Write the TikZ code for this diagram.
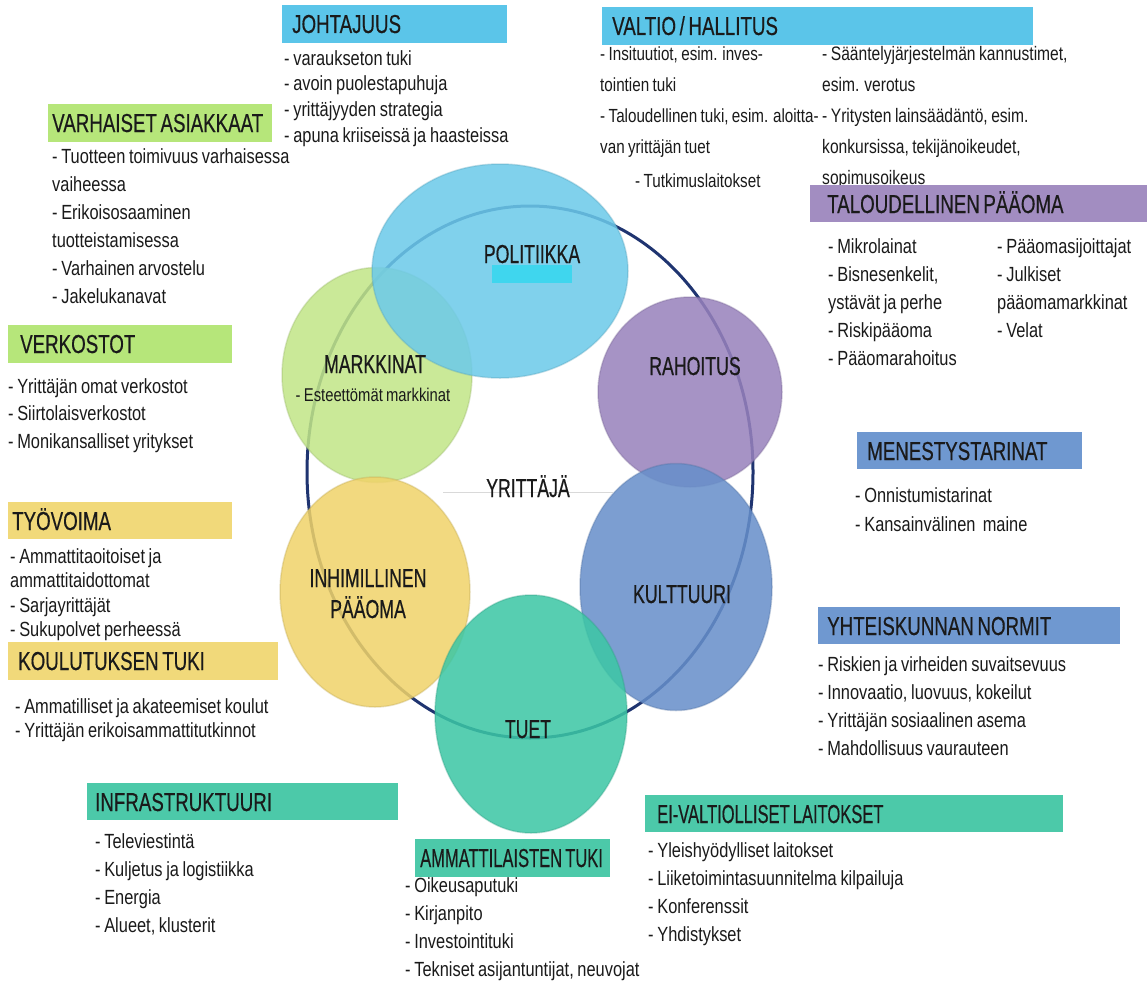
\documentclass[tikz,border=0pt]{standalone}
\usepackage{fontspec}
\usetikzlibrary{shapes.geometric,calc}
\setmainfont{Liberation Sans}[FakeStretch=0.8,WordSpace=0.8]
\newfontfamily\hdrfam{Liberation Sans}[FakeStretch=0.72,WordSpace=0.7,FakeBold=0.4]
\newfontfamily\hdrnarrow{Liberation Sans}[FakeStretch=0.635,WordSpace=0.7,FakeBold=0.4]
\newfontfamily\circfam{Liberation Sans}[FakeStretch=0.68,WordSpace=0.7,FakeBold=0.5]
\definecolor{txt}{HTML}{1A1A1A}
\definecolor{hCyan}{HTML}{5BC5E9}
\definecolor{hGreen}{HTML}{B6E67A}
\definecolor{hPurp}{HTML}{A28DC1}
\definecolor{hYell}{HTML}{F1D97A}
\definecolor{hBlue}{HTML}{6F98D0}
\definecolor{hTeal}{HTML}{4CC9A9}
\definecolor{cPol}{HTML}{6CCAEA}
\definecolor{cMar}{HTML}{C2E688}
\definecolor{cRah}{HTML}{9882BC}
\definecolor{cInh}{HTML}{F0D36A}
\definecolor{cKul}{HTML}{678FCA}
\definecolor{cTue}{HTML}{3CC7A5}
\definecolor{cBright}{HTML}{3FD6EE}
\definecolor{ringc}{HTML}{1F3470}
\newcommand\bfnt[1]{\fontsize{20.5}{#1}\selectfont}
\newcommand\fl{\rule{0pt}{1em}}
\begin{document}
\begin{tikzpicture}[x=1pt,y=-1pt,
  hbox/.style={anchor=north west, minimum height=38pt, inner sep=0pt},
  htxt/.style={anchor=base west, inner sep=0pt, font=\hdrfam\fontsize{26}{30}\selectfont, text=txt},
  htxtn/.style={htxt, font=\hdrnarrow\fontsize{26}{30}\selectfont},
  body/.style={anchor=north west, inner sep=0pt, align=left, text=txt},
  bub/.style={ellipse, inner sep=0pt, fill opacity=0.86, draw opacity=0.35, line width=1.5pt},
  clab/.style={font=\circfam\fontsize{26}{30}\selectfont, text=txt, inner sep=0pt, anchor=base},
]
\useasboundingbox[fill=white] (0,0) rectangle (1147,982);

% ring and circles
\node[ellipse, draw=ringc, line width=3pt, minimum width=446pt, minimum height=532pt, inner sep=0pt] (ring) at (530,472) {};
\node[bub, fill=cMar, draw=cMar!80!black, minimum width=190pt, minimum height=215pt] (mar) at (377,375) {};
\node[bub, fill=cPol, draw=cPol!80!black, minimum width=256pt, minimum height=214pt] (pol) at (500,271) {};
\node[bub, fill=cRah, draw=cRah!80!black, minimum width=184pt, minimum height=190pt] (rah) at (690,392) {};
\node[bub, fill=cInh, draw=cInh!80!black, minimum width=190pt, minimum height=230pt] (inh) at (375,592) {};
\node[bub, fill=cKul, draw=cKul!80!black, minimum width=192pt, minimum height=247pt] (kul) at (676,587) {};
\node[bub, fill=cTue, draw=cTue!80!black, minimum width=192pt, minimum height=238pt] (tue) at (531,714) {};
\node[fill=cBright, minimum width=80pt, minimum height=18pt, inner sep=0pt, anchor=north west] (polrect) at (492,265) {};

% circle labels
\node[clab] (lPol) at (532,263) {POLITIIKKA};
\node[clab] (lMar) at (375,373) {MARKKINAT};
\node[body, anchor=base, font=\fontsize{18.5}{22}\selectfont] (lMar2) at (373,401) {- Esteettömät markkinat};
\node[clab] (lRah) at (695,375) {RAHOITUS};
\coordinate (ylL) at (443,492);
\coordinate (ylR) at (613,492);
\draw[black!15, line width=1pt] (ylL) -- (ylR);
\node[clab] (lYri) at (528,497) {YRITTÄJÄ};
\node[clab] (lInh) at (368,587) {INHIMILLINEN};
\node[clab] (lInh2) at (368,618) {PÄÄOMA};
\node[clab] (lKul) at (682,603) {KULTTUURI};
\node[clab] (lTue) at (528,738) {TUET};

% bodies
\node[body, font=\bfnt{25.7}] (bJoh) at (284,44.5) {\fl- varaukseton tuki\\- avoin puolestapuhuja\\- yrittäjyyden strategia\\- apuna kriiseissä ja haasteissa};
\node[body, font=\fontsize{19}{31}\selectfont] (bVal1) at (600,41) {\fl- Insituutiot, esim. inves-\\tointien tuki\\- Taloudellinen tuki, esim. aloitta-\\van yrittäjän tuet};
\node[body, font=\fontsize{19}{31}\selectfont] (bVal3) at (635,168) {\fl- Tutkimuslaitokset};
\node[body, font=\fontsize{19.5}{31}\selectfont] (bVal2) at (822,40.5) {\fl- Sääntelyjärjestelmän kannustimet,\\esim. verotus\\- Yritysten lainsäädäntö, esim.\\konkursissa, tekijänoikeudet,\\sopimusoikeus};
\node[body, font=\bfnt{28}] (bTal1) at (828,232.5) {\fl- Mikrolainat\\- Bisnesenkelit,\\ystävät ja perhe\\- Riskipääoma\\- Pääomarahoitus};
\node[body, font=\bfnt{28}] (bTal2) at (997,232.5) {\fl- Pääomasijoittajat\\- Julkiset\\pääomamarkkinat\\- Velat};
\node[body, font=\bfnt{28}] (bVar) at (52,142.5) {\fl- Tuotteen toimivuus varhaisessa\\vaiheessa\\- Erikoisosaaminen\\tuotteistamisessa\\- Varhainen arvostelu\\- Jakelukanavat};
\node[body, font=\bfnt{27.5}] (bVer) at (8,372.5) {\fl- Yrittäjän omat verkostot\\- Siirtolaisverkostot\\- Monikansalliset yritykset};
\node[body, font=\bfnt{24.5}] (bTyo) at (10,542.5) {\fl- Ammattitaoitoiset ja\\ammattitaidottomat\\- Sarjayrittäjät\\- Sukupolvet perheessä};
\node[body, font=\bfnt{24}] (bKou) at (15,692.5) {\fl- Ammatilliset ja akateemiset koulut\\- Yrittäjän erikoisammattitutkinnot};
\node[body, font=\bfnt{29}] (bMen) at (855,481.5) {\fl- Onnistumistarinat\\- Kansainvälinen\ \ maine};
\node[body, font=\bfnt{28}] (bYht) at (818,650.5) {\fl- Riskien ja virheiden suvaitsevuus\\- Innovaatio, luovuus, kokeilut\\- Yrittäjän sosiaalinen asema\\- Mahdollisuus vaurauteen};
\node[body, font=\bfnt{28}] (bInf) at (95,827.5) {\fl- Televiestintä\\- Kuljetus ja logistiikka\\- Energia\\- Alueet, klusterit};
\node[body, font=\bfnt{28}] (bAmm) at (405,871.5) {\fl- Oikeusaputuki\\- Kirjanpito\\- Investointituki\\- Tekniset asijantuntijat, neuvojat};
\node[body, font=\bfnt{28}] (bEiv) at (648,836.5) {\fl- Yleishyödylliset laitokset\\- Liiketoimintasuunnitelma kilpailuja\\- Konferenssit\\- Yhdistykset};

% headers: coloured bars
\node[hbox, fill=hCyan, minimum width=225pt] (hJoh) at (282,5) {};
\node[hbox, fill=hCyan, minimum width=431pt] (hVal) at (602,7) {};
\node[hbox, fill=hGreen, minimum width=224pt] (hVar) at (48,104) {};
\node[hbox, fill=hPurp, minimum width=337pt, minimum height=37pt] (hTal) at (810,185) {};
\node[hbox, fill=hGreen, minimum width=224pt] (hVer) at (8,325) {};
\node[hbox, fill=hBlue, minimum width=225pt, minimum height=37pt] (hMen) at (857,432) {};
\node[hbox, fill=hYell, minimum width=224pt, minimum height=37pt] (hTyo) at (8,502) {};
\node[hbox, fill=hBlue, minimum width=302pt, minimum height=37pt] (hYht) at (818,607) {};
\node[hbox, fill=hYell, minimum width=270pt] (hKou) at (8,642) {};
\node[hbox, fill=hTeal, minimum width=311pt, minimum height=37pt] (hInf) at (87,783) {};
\node[hbox, fill=hTeal, minimum width=418pt, minimum height=37pt] (hEiv) at (645,795) {};
\node[hbox, fill=hTeal, minimum width=195pt] (hAmm) at (415,839) {};
% header texts
\node[htxt] (tJoh) at ($(hJoh.north west)+(10,28)$) {JOHTAJUUS};
\node[htxt] (tVal) at ($(hVal.north west)+(10,28)$) {VALTIO / HALLITUS};
\node[htxt] (tVar) at ($(hVar.north west)+(4,28)$) {VARHAISET ASIAKKAAT};
\node[htxt] (tTal) at ($(hTal.north west)+(17,28)$) {TALOUDELLINEN PÄÄOMA};
\node[htxt] (tVer) at ($(hVer.north west)+(12,28)$) {VERKOSTOT};
\node[htxt] (tMen) at ($(hMen.north west)+(10,28)$) {MENESTYSTARINAT};
\node[htxt] (tTyo) at ($(hTyo.north west)+(4,28)$) {TYÖVOIMA};
\node[htxt] (tYht) at ($(hYht.north west)+(9,28)$) {YHTEISKUNNAN NORMIT};
\node[htxt] (tKou) at ($(hKou.north west)+(10,28)$) {KOULUTUKSEN TUKI};
\node[htxt] (tInf) at ($(hInf.north west)+(8,28)$) {INFRASTRUKTUURI};
\node[htxtn] (tEiv) at ($(hEiv.north west)+(12,28)$) {EI-VALTIOLLISET LAITOKSET};
\node[htxtn] (tAmm) at ($(hAmm.north west)+(5,28)$) {AMMATTILAISTEN TUKI};
\end{tikzpicture}
\end{document}
